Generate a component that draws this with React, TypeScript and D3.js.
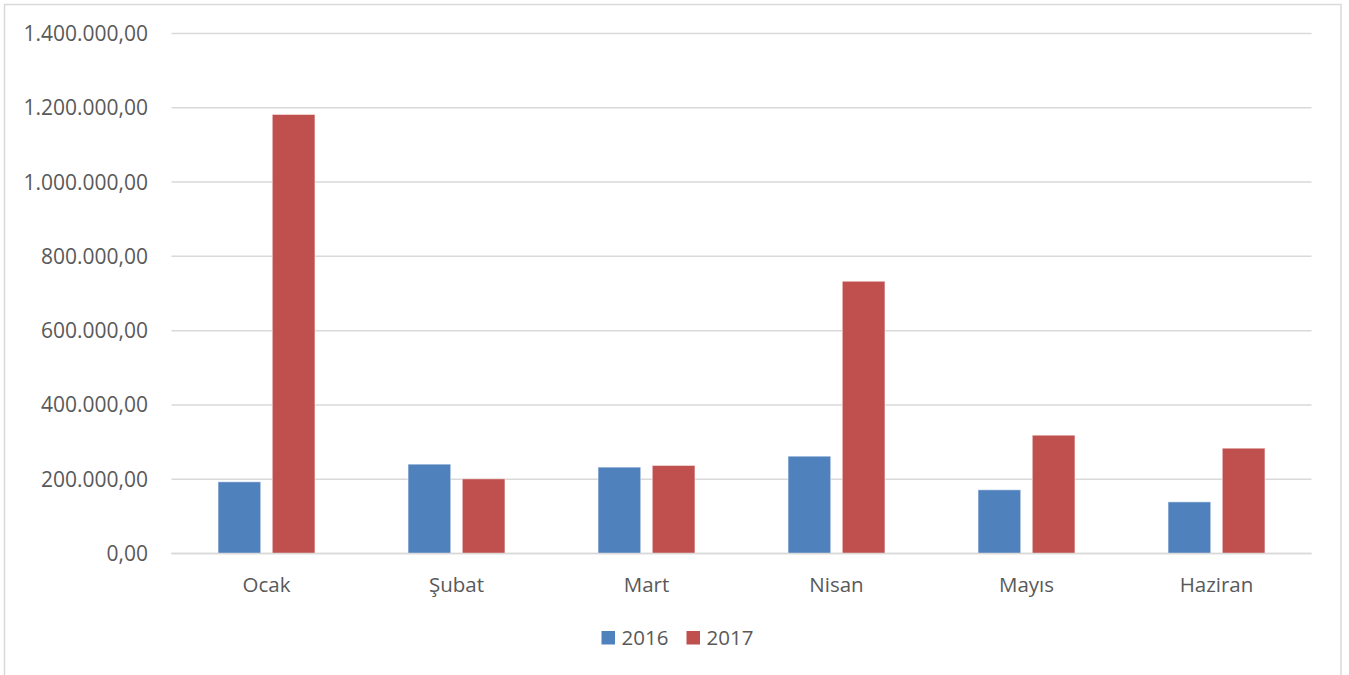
import React, { useRef, useEffect } from "react";
import * as d3 from "d3";

const months = ["Ocak", "Şubat", "Mart", "Nisan", "Mayıs", "Haziran"];
const seriesNames = ["2016", "2017"];
const values2016 = [193000, 240500, 232500, 262000, 171500, 139000];
const values2017 = [1182000, 201000, 237000, 733000, 318500, 283500];
const yTicks = [0, 200000, 400000, 600000, 800000, 1000000, 1200000, 1400000];
const colors = ["#4F81BD", "#C0504D"];

const W = 1349;
const H = 675;
const FONT = "'Open Sans', sans-serif";

const fmt = (v: number) => {
  const s = d3.format(",.2f")(v);
  return s.replace(/,/g, "#").replace(".", ",").replace(/#/g, ".");
};

const App: React.FC = () => {
  const svgRef = useRef<SVGSVGElement | null>(null);

  useEffect(() => {
    if (!svgRef.current) return;
    const svg = d3.select(svgRef.current);
    svg.selectAll("*").remove();

    const left = 171.5;
    const right = 1311.5;
    const top = 33.5;
    const bottom = 553.5;

    // chart frame
    svg
      .append("rect")
      .attr("x", 4.5)
      .attr("y", 4.5)
      .attr("width", 1341 - 4.5)
      .attr("height", H + 10)
      .attr("fill", "#fff")
      .attr("stroke", "#D9D9D9")
      .attr("stroke-width", 1.5);

    const y = d3.scaleLinear().domain([0, 1400000]).range([bottom, top]);
    const x0 = d3
      .scaleBand()
      .domain(months)
      .range([left, right])
      .paddingInner(0.49)
      .paddingOuter(0.245);
    const x1 = d3
      .scaleBand()
      .domain(seriesNames)
      .range([0, x0.bandwidth()])
      .paddingInner(0.213)
      .paddingOuter(0);

    // grid
    svg
      .append("g")
      .selectAll("line")
      .data(yTicks)
      .enter()
      .append("line")
      .attr("x1", left)
      .attr("x2", right)
      .attr("y1", (d) => y(d))
      .attr("y2", (d) => y(d))
      .attr("stroke", "#D9D9D9")
      .attr("stroke-width", 1.5);

    // y labels
    svg
      .append("g")
      .selectAll("text")
      .data(yTicks)
      .enter()
      .append("text")
      .attr("x", 148)
      .attr("y", (d) => y(d) + 7.5)
      .attr("text-anchor", "end")
      .attr("font-family", FONT)
      .attr("font-size", 21)
      .attr("fill", "#595959")
      .text((d) => fmt(d));

    const series = [values2016, values2017];
    const groups = svg
      .append("g")
      .selectAll("g")
      .data(months)
      .enter()
      .append("g")
      .attr("transform", (d) => `translate(${x0(d)},0)`);

    groups
      .selectAll("rect")
      .data((_, i) =>
        seriesNames.map((s, k) => ({ s, k, v: series[k][i] }))
      )
      .enter()
      .append("rect")
      .attr("x", (d) => x1(d.s)!)
      .attr("width", x1.bandwidth())
      .attr("y", (d) => y(d.v))
      .attr("height", (d) => bottom - y(d.v))
      .attr("fill", (d) => colors[d.k])
      .attr("stroke", "#fff")
      .attr("stroke-opacity", 0.5)
      .attr("stroke-width", 1);

    // baseline
    svg
      .append("line")
      .attr("x1", left)
      .attr("x2", right)
      .attr("y1", bottom)
      .attr("y2", bottom)
      .attr("stroke", "#D9D9D9")
      .attr("stroke-width", 1.5);

    // category labels
    svg
      .append("g")
      .selectAll("text")
      .data(months)
      .enter()
      .append("text")
      .attr("x", (d) => x0(d)! + x0.bandwidth() / 2)
      .attr("y", 592)
      .attr("text-anchor", "middle")
      .attr("font-family", FONT)
      .attr("font-size", 20.5)
      .attr("fill", "#595959")
      .text((d) => d);

    // legend
    const legend = svg
      .append("g")
      .selectAll("g")
      .data(seriesNames)
      .enter()
      .append("g")
      .attr("transform", (_, i) => `translate(${601.5 + i * 85},0)`);
    legend
      .append("rect")
      .attr("x", 0)
      .attr("y", 631)
      .attr("width", 13.5)
      .attr("height", 13.5)
      .attr("fill", (_, i) => colors[i]);
    legend
      .append("text")
      .attr("x", 20)
      .attr("y", 645)
      .attr("font-family", FONT)
      .attr("font-size", 20.5)
      .attr("fill", "#595959")
      .text((d) => d);
  }, []);

  return (
    <svg
      ref={svgRef}
      width={W}
      height={H}
      style={{ position: "absolute", left: 0, top: 0, background: "#fff" }}
    ></svg>
  );
};

export default App;
